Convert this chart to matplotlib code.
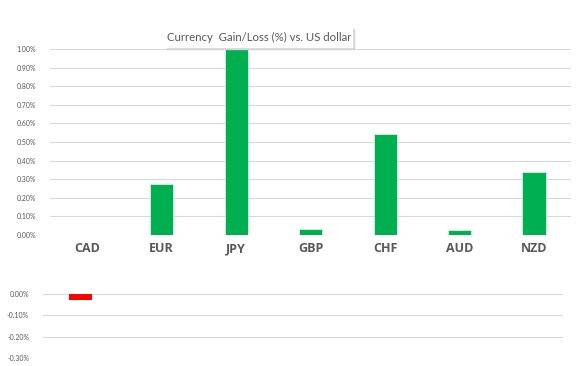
import matplotlib.pyplot as plt
import numpy as np
from matplotlib.patches import Rectangle

currencies = ["CAD", "EUR", "JPY", "GBP", "CHF", "AUD", "NZD"]
gains = [0.0, 0.274, 1.00, 0.03, 0.543, 0.027, 0.339]
losses = [-0.03, 0.0, 0.0, 0.0, 0.0, 0.0, 0.0]
gain_ticks = np.arange(0, 1.01, 0.1)
loss_ticks = [0.0, -0.1, -0.2, -0.3]

plt.rcParams['font.family'] = ['Lato', 'DejaVu Sans']
grey = '#595959'
grid_col = '#D9D9D9'

fig = plt.figure(figsize=(5.83, 3.66), dpi=100)
x = np.arange(len(currencies))


def style_axis(ax, ticks, lo, hi):
    ax.set_xlim(-0.5, len(currencies) - 0.5)
    ax.set_ylim(lo, hi)
    ax.set_yticks(ticks)
    ax.set_yticklabels(["{:.2f}%".format(t) for t in ticks], fontsize=5, color=grey)
    ax.tick_params(axis='y', length=0, pad=10)
    for s in ax.spines.values():
        s.set_visible(False)
    ax.grid(axis='y', color=grid_col, linewidth=0.8)
    ax.set_axisbelow(True)


# top panel - gains
ax1 = fig.add_axes([0.0858, 0.358, 0.894, 0.508])
ax1.bar(x, gains, width=0.31, color='#00B050', edgecolor='#E8F5EC', linewidth=0.5)
style_axis(ax1, gain_ticks, 0, 1.0)
ax1.set_xticks(x)
ax1.set_xticklabels(currencies, fontsize=9, fontweight='bold', color=grey,
                    family=['Open Sans', 'DejaVu Sans'])
ax1.tick_params(axis='x', length=0, pad=5)

# bottom panel - losses
ax2 = fig.add_axes([0.0738, 0.022, 0.892, 0.175])
ax2.bar(x, losses, width=0.31, color='#FF0000')
style_axis(ax2, loss_ticks, -0.3, 0)
ax2.set_xticks([])

# title box with a soft shadow
fig.patches.append(Rectangle((166.5 / 583, 1 - 48.5 / 366), 187 / 583, 20 / 366,
                             transform=fig.transFigure, color='#D4D4D4', zorder=5))
fig.patches.append(Rectangle((165 / 583, 1 - 47 / 366), 187 / 583, 20 / 366,
                             transform=fig.transFigure, color='white', zorder=6))
fig.text(259 / 583, 1 - 37 / 366, "Currency  Gain/Loss (%) vs. US dollar",
         ha='center', va='center', fontsize=8.2, color=grey, zorder=7)

fig.savefig('out.png', dpi=100)
